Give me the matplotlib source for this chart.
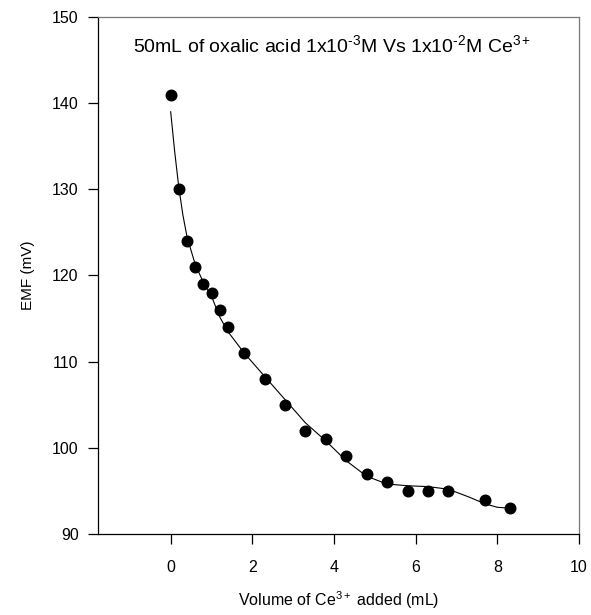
import matplotlib
matplotlib.use('Agg')
import matplotlib.pyplot as plt

plt.rcParams['font.family'] = ['Liberation Sans', 'DejaVu Sans']
plt.rcParams['mathtext.fontset'] = 'custom'
plt.rcParams['mathtext.rm'] = 'Liberation Sans'
plt.rcParams['mathtext.it'] = 'Liberation Sans:italic'
plt.rcParams['mathtext.default'] = 'regular'

# measured points
volume = [0, 0.2, 0.4, 0.6, 0.8, 1.0, 1.2, 1.4, 1.8, 2.3, 2.8,
          3.3, 3.8, 4.3, 4.8, 5.3, 5.8, 6.3, 6.8, 7.7, 8.3]
emf = [141, 130, 124, 121, 119, 118, 116, 114, 111, 108, 105,
       102, 101, 99, 97, 96, 95, 95, 95, 94, 93]

# fitted curve
fit_x = [0, 0.1, 0.2, 0.3, 0.4, 0.6, 0.8, 1.0, 1.2, 1.4, 1.8, 2.3, 2.8,
         3.3, 3.8, 4.3, 4.8, 5.3, 5.8, 6.3, 6.8, 7.3, 7.7, 8.0, 8.3]
fit_y = [139, 134.3, 130.2, 127.0, 124.5, 121.3, 119.2, 117.6, 115.2, 113.5,
         111.0, 108.3, 105.6, 102.9, 100.8, 98.5, 96.7, 95.8, 95.6, 95.5,
         95.2, 94.3, 93.5, 93.1, 93.0]

fig = plt.figure(figsize=(5.91, 6.15), dpi=100)
ax = fig.add_axes([0.1658, 0.1317, 0.8139, 0.8407])

ax.plot(fit_x, fit_y, color='black', lw=0.8)
ax.plot(volume, emf, 'o', color='black', markersize=7.6)

ax.set_xlim(-1.78, 10)
ax.set_ylim(90, 150)
ax.set_xticks([0, 2, 4, 6, 8, 10])
ax.set_yticks([90, 100, 110, 120, 130, 140, 150])

for side in ['top', 'right']:
    ax.spines[side].set_color('#777777')
for side in ['left', 'bottom']:
    ax.spines[side].set_color('black')
for s in ax.spines.values():
    s.set_linewidth(0.9)

ax.tick_params(direction='out', length=7, width=0.9, labelsize=11.5, pad=7)
ax.tick_params(axis='x', pad=12)

ax.set_xlabel('Volume of Ce$^{3+}$ added (mL)', fontsize=11.5, labelpad=10)
ax.set_ylabel('EMF (mV)', fontsize=11, labelpad=12)

ax.text(0.073, 0.932,
        r'50mL of oxalic acid 1x10$^{\text{-}3}$M Vs 1x10$^{\text{-}2}$M Ce$^{3+}$',
        transform=ax.transAxes, fontsize=14, va='baseline', ha='left')

fig.savefig('out.png', dpi=100)
